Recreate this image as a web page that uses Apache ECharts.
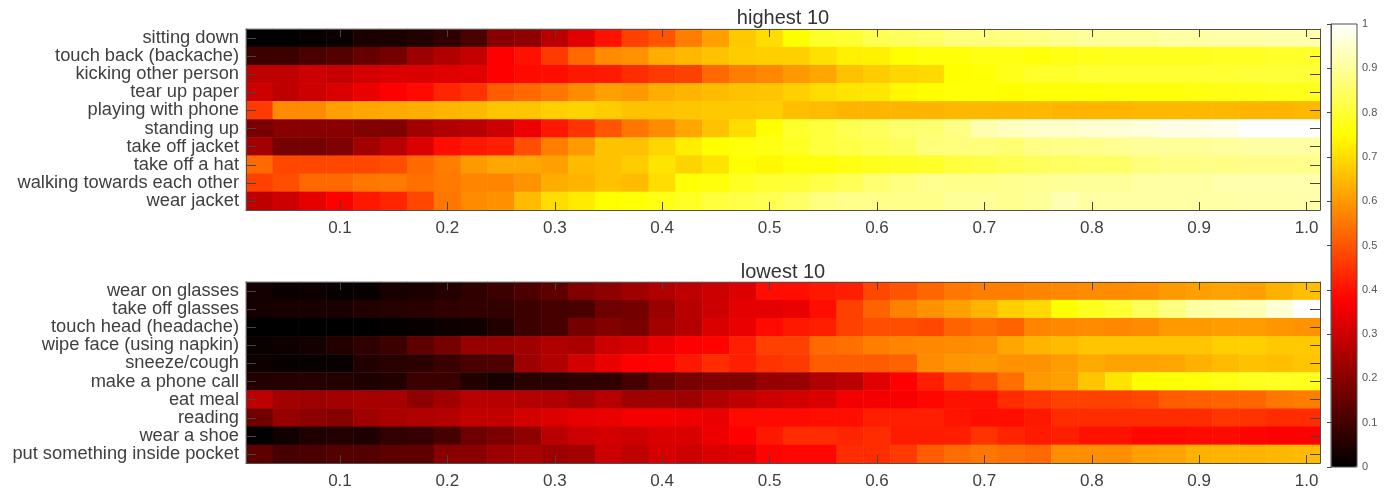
<!DOCTYPE html>
<html>
<head>
<meta charset="utf-8">
<style>html,body{margin:0;padding:0;background:#fff}#c{width:1393px;height:492px}</style>
<script src="https://cdn.jsdelivr.net/npm/echarts@6/dist/echarts.min.js"></script>
</head>
<body>
<div id="c"></div>
<script>
const ratios = [0.025,0.05,0.075,0.1,0.125,0.15,0.175,0.2,0.225,0.25,0.275,0.3,0.325,0.35,0.375,0.4,0.425,0.45,0.475,0.5,0.525,0.55,0.575,0.6,0.625,0.65,0.675,0.7,0.725,0.75,0.775,0.8,0.825,0.85,0.875,0.9,0.925,0.95,0.975,1.0];
const highestLabels = ["sitting down","touch back (backache)","kicking other person","tear up paper","playing with phone","standing up","take off jacket","take off a hat","walking towards each other","wear jacket"];
const lowestLabels = ["wear on glasses","take off glasses","touch head (headache)","wipe face (using napkin)","sneeze/cough","make a phone call","eat meal","reading","wear a shoe","put something inside pocket"];
const highestValues = [
[0,0,.01,.015,.04,.04,.05,.07,.11,.2,.21,.27,.33,.4,.47,.5,.56,.61,.67,.7,.75,.79,.8,.83,.84,.85,.87,.87,.875,.88,.89,.9,.9,.9,.91,.91,.915,.915,.92,.92],
[.09,.09,.11,.12,.15,.17,.23,.26,.29,.375,.4,.46,.53,.58,.59,.63,.645,.66,.675,.68,.68,.705,.73,.73,.75,.76,.76,.77,.77,.76,.77,.775,.78,.78,.78,.78,.785,.785,.79,.79],
[.28,.28,.3,.29,.31,.32,.32,.33,.335,.375,.39,.395,.41,.415,.44,.46,.47,.53,.56,.575,.6,.62,.66,.675,.69,.695,.75,.755,.775,.79,.79,.8,.8,.8,.8,.8,.8,.805,.805,.805],
[.3,.28,.3,.32,.345,.375,.39,.43,.45,.51,.53,.55,.58,.61,.6,.63,.64,.65,.66,.665,.68,.7,.71,.715,.74,.75,.755,.755,.75,.755,.755,.755,.76,.76,.76,.765,.77,.77,.775,.775],
[.46,.58,.58,.61,.62,.625,.63,.64,.645,.665,.665,.68,.685,.675,.66,.66,.665,.67,.67,.675,.655,.65,.64,.64,.64,.64,.645,.645,.645,.645,.64,.64,.64,.645,.645,.645,.645,.64,.64,.645],
[.18,.2,.2,.2,.19,.19,.24,.26,.27,.3,.35,.41,.45,.5,.55,.58,.62,.66,.7,.75,.795,.81,.83,.84,.855,.86,.88,.92,.94,.95,.95,.955,.96,.965,.975,.975,.98,1,1,1],
[.24,.17,.17,.185,.24,.27,.32,.395,.41,.42,.49,.56,.6,.66,.66,.69,.725,.75,.76,.77,.785,.81,.82,.83,.84,.87,.87,.87,.86,.88,.885,.885,.895,.9,.9,.9,.905,.91,.91,.91],
[.53,.48,.48,.48,.48,.49,.53,.56,.6,.62,.62,.61,.65,.66,.675,.71,.685,.71,.75,.74,.755,.76,.77,.78,.785,.79,.81,.82,.83,.84,.845,.85,.85,.87,.88,.88,.88,.885,.885,.885],
[.47,.49,.53,.53,.55,.555,.54,.555,.57,.57,.59,.63,.64,.66,.65,.7,.755,.76,.785,.8,.805,.82,.835,.86,.875,.89,.885,.885,.89,.895,.9,.9,.9,.91,.91,.91,.92,.92,.92,.92],
[.28,.3,.34,.375,.41,.43,.48,.55,.58,.59,.65,.7,.72,.75,.755,.77,.785,.81,.82,.83,.85,.875,.885,.885,.885,.885,.9,.9,.89,.9,.925,.91,.91,.91,.91,.91,.91,.915,.915,.915]
];
const lowestValues = [
[.03,.015,.02,.012,.012,.035,.04,.055,.07,.09,.115,.14,.19,.21,.235,.26,.28,.3,.325,.395,.395,.41,.42,.48,.5,.525,.55,.56,.56,.57,.575,.58,.58,.585,.6,.61,.615,.61,.635,.655],
[.03,.035,.035,.04,.05,.055,.06,.07,.075,.075,.09,.105,.11,.16,.17,.225,.27,.3,.335,.335,.345,.395,.47,.52,.565,.59,.61,.64,.68,.695,.75,.78,.8,.84,.875,.91,.92,.93,.96,1],
[0,0,0,0,0,.008,.01,.02,.025,.05,.09,.105,.17,.19,.18,.24,.265,.32,.345,.39,.41,.42,.47,.49,.49,.48,.52,.535,.52,.57,.575,.58,.575,.58,.6,.6,.605,.605,.595,.59],
[.015,.02,.03,.05,.07,.09,.14,.17,.22,.225,.235,.26,.25,.3,.315,.35,.375,.38,.42,.47,.47,.53,.54,.56,.57,.575,.58,.585,.62,.64,.65,.665,.665,.665,.665,.665,.68,.68,.67,.67],
[.02,.012,.012,.012,.05,.06,.065,.085,.11,.115,.23,.26,.31,.345,.375,.38,.41,.44,.42,.45,.46,.51,.51,.51,.52,.58,.595,.6,.59,.59,.605,.625,.615,.615,.62,.635,.65,.66,.655,.665],
[.05,.055,.055,.05,.045,.05,.09,.085,.05,.035,.06,.06,.07,.07,.105,.15,.18,.19,.19,.22,.225,.26,.275,.33,.375,.42,.47,.49,.54,.6,.61,.665,.71,.75,.755,.76,.77,.78,.785,.78],
[.28,.24,.23,.24,.245,.245,.21,.235,.27,.27,.265,.26,.24,.27,.235,.235,.23,.26,.28,.3,.31,.32,.36,.36,.365,.385,.4,.4,.44,.455,.47,.47,.47,.48,.51,.515,.52,.525,.55,.56],
[.165,.22,.205,.195,.235,.25,.26,.265,.285,.285,.31,.325,.34,.345,.36,.36,.355,.345,.39,.39,.39,.395,.395,.42,.42,.42,.405,.395,.395,.41,.44,.44,.44,.44,.44,.44,.455,.45,.44,.44],
[.005,.025,.045,.05,.045,.075,.08,.105,.16,.18,.21,.27,.3,.31,.3,.32,.32,.35,.375,.41,.44,.44,.43,.44,.415,.415,.42,.45,.43,.415,.42,.4,.4,.385,.385,.39,.39,.38,.375,.375],
[.135,.105,.11,.12,.12,.135,.14,.2,.2,.23,.245,.23,.24,.3,.28,.315,.3,.32,.33,.38,.385,.385,.44,.44,.46,.51,.535,.55,.54,.53,.585,.585,.585,.61,.615,.635,.64,.64,.645,.65]
];
const hotColors = ['#000000','#550000','#aa0000','#ff0000','#ff5500','#ffaa00','#ffff00','#ffff80','#ffffff'];
const textColor = '#404040', lineColor = '#505050', font = 'Liberation Sans';
const everyFourth = i => (i + 1) % 4 === 0;
const cells = m => m.flatMap((row, y) => row.map((v, x) => [x, y, v]));
const grids = [
  {left:246, top:29, width:1074, height:181},
  {left:246, top:282, width:1074, height:181},
  {left:1331, top:24, width:26, height:443}
];
const xAxes = [], yAxes = [];
[highestLabels, lowestLabels].forEach((labels, g) => {
  ['bottom','top'].forEach(position => xAxes.push({
    type:'category', gridIndex:g, position, data:ratios.map(String),
    axisLine:{show:true, onZero:false, lineStyle:{color:lineColor,width:1}},
    axisTick:{show:true, inside:true, length:8, alignWithLabel:true, interval:everyFourth, lineStyle:{color:'#444'}},
    axisLabel:{show:position==='bottom', interval:everyFourth, margin:10, fontSize:17, color:textColor, fontFamily:font,
      formatter:v => Number(v).toFixed(1)},
    splitLine:{show:false}, splitArea:{show:false}, z:5
  }));
  ['left','right'].forEach(position => yAxes.push({
    type:'category', gridIndex:g, position, inverse:true, data:labels,
    axisLine:{show:true, onZero:false, lineStyle:{color:lineColor,width:1}},
    axisTick:{show:true, inside:true, length:10, alignWithLabel:true, interval:0, lineStyle:{color:'#444'}},
    axisLabel:{show:position==='left', interval:0, margin:7, fontSize:18.3, color:textColor, fontFamily:font, padding:[3,0,0,0]},
    splitLine:{show:false}, splitArea:{show:false}, z:5
  }));
});
xAxes.push({type:'value', gridIndex:2, show:false, min:0, max:1});
yAxes.push({type:'value', gridIndex:2, position:'right', min:0, max:1, interval:0.1,
  axisLine:{show:true, lineStyle:{color:lineColor,width:1}},
  axisTick:{show:true, inside:true, length:4, lineStyle:{color:'#444'}},
  axisLabel:{margin:5, fontSize:11, color:'#555', fontFamily:font, padding:[3,0,0,0]},
  splitLine:{show:false}, z:10});
const chart = echarts.init(document.getElementById('c'), null, {renderer:'canvas'});
chart.setOption({
  animation:false,
  backgroundColor:'#fff',
  title:[
    {text:'highest 10', left:778, top:3, textAlign:'center', textStyle:{fontSize:20, fontWeight:'normal', color:'#333', fontFamily:font}},
    {text:'lowest 10', left:778, top:257, textAlign:'center', textStyle:{fontSize:20, fontWeight:'normal', color:'#333', fontFamily:font}}
  ],
  grid:grids.map((g,i) => Object.assign({show:i===2, borderColor:lineColor, borderWidth:1, backgroundColor:'transparent', z:10}, g)),
  xAxis:xAxes,
  yAxis:yAxes,
  visualMap:{
    type:'continuous', min:0, max:1, left:1331, top:24, itemWidth:26, itemHeight:443, padding:0,
    calculable:false, realtime:false, seriesIndex:[0,1], text:null, showLabel:false,
    inRange:{color:hotColors}, textStyle:{color:'transparent', fontSize:1}, hoverLink:false
  },
  series:[
    {type:'heatmap', xAxisIndex:0, yAxisIndex:0, data:cells(highestValues), progressive:0, emphasis:{disabled:true}},
    {type:'heatmap', xAxisIndex:2, yAxisIndex:2, data:cells(lowestValues), progressive:0, emphasis:{disabled:true}}
  ]
});
</script>
</body>
</html>
